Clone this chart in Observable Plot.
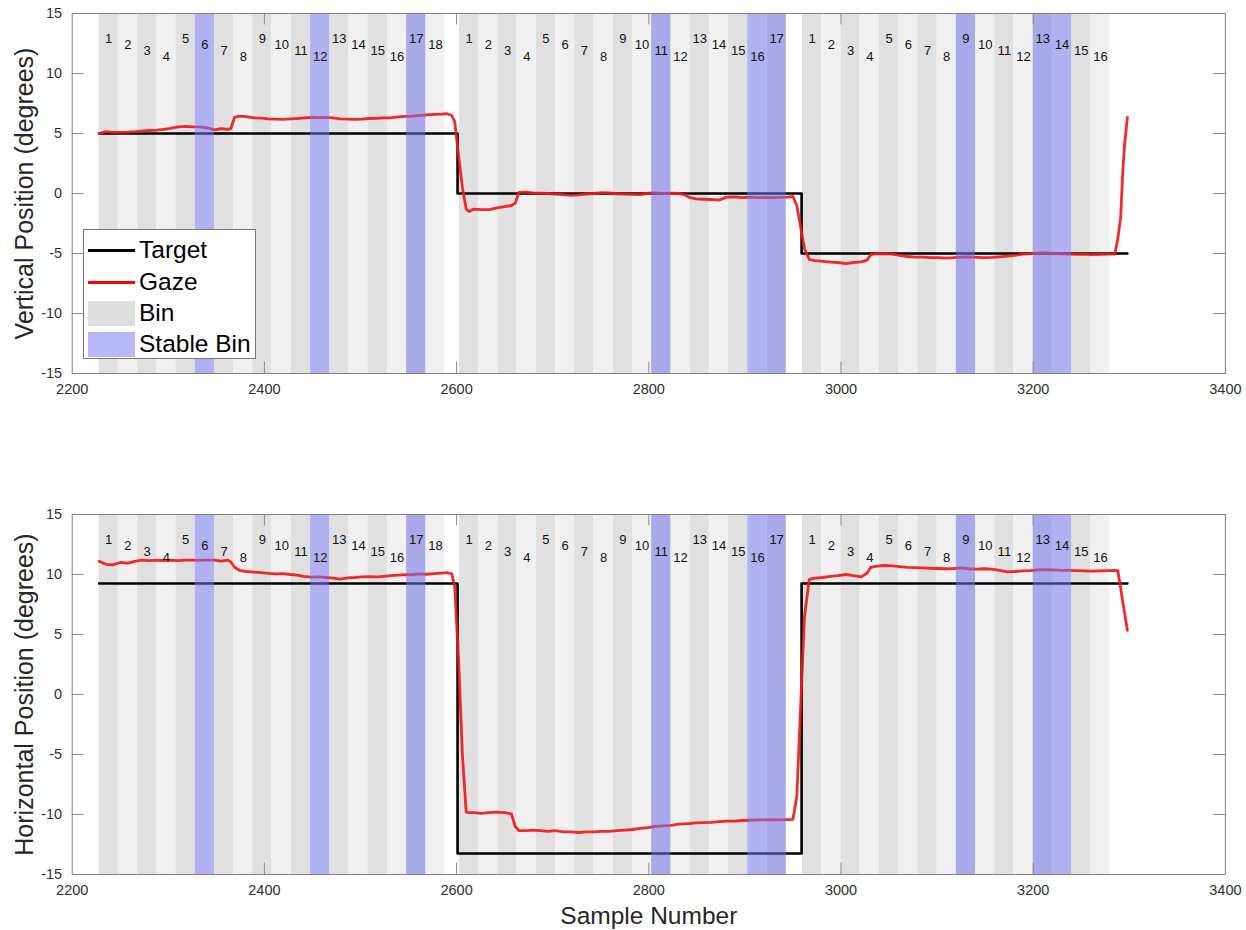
<!DOCTYPE html>
<html>
<head>
<meta charset="utf-8">
<script src="https://cdn.jsdelivr.net/npm/d3@7"></script>
<script src="https://cdn.jsdelivr.net/npm/@observablehq/plot@0.6"></script>
<style>
  html, body { margin: 0; padding: 0; background: #fff; }
  #chart { position: relative; width: 1246px; height: 930px; font-family: "Liberation Sans", Arial, sans-serif; }
  #chart svg { display: block; }
  .legend { position: absolute; left: 83px; top: 229px; width: 173px; height: 130px; border: 1px solid #777; background: #fff; box-sizing: border-box; }
  .legend .item { position: absolute; left: 4px; height: 30px; display: flex; align-items: center; font-size: 24.5px; color: #000; }
  .legend .sw { width: 47px; margin-right: 4px; }
</style>
</head>
<body>
<div id="chart"></div>
<script>
// ---------- data ----------
const xTicks = [2200, 2400, 2600, 2800, 3000, 3200, 3400];
const yTicks = [-15, -10, -5, 0, 5, 10, 15];

// bin start samples per trial (each bin 20 samples wide)
const binStarts1 = [2228, 2248, 2268, 2288, 2308, 2328, 2348, 2368, 2388, 2408, 2428, 2448, 2468, 2488, 2508, 2528, 2548, 2568];
const binStarts2 = [2603, 2623, 2643, 2663, 2683, 2703, 2723, 2743, 2763, 2783, 2803, 2823, 2843, 2863, 2883, 2903, 2923];
const binStarts3 = [2960, 2980, 3000, 3020, 3040, 3060, 3080, 3100, 3120, 3140, 3160, 3180, 3200, 3220, 3240, 3260];
const binWidth = 20;
const stable1 = [6, 12, 17];
const stable2 = [11, 16, 17];
const stable3 = [9, 13, 14];
const labelLevels = [12.9, 12.4, 11.9, 11.4];

// target steps
const targetSamples = [2228, 2601, 2959, 3298];
const targetVert = [5, 0, -5, -5];
const targetHorz = [9.25, -13.25, 9.25, 9.25];

// gaze samples
const gazeSamples = [
  2228, 2235, 2242, 2250, 2258, 2265, 2272, 2280, 2288, 2295, 2302, 2310, 2318, 2325, 2332, 2340, 2348, 2355, 2362, 2365,
  2369, 2374, 2381, 2389, 2397, 2404, 2411, 2419, 2427, 2434, 2441, 2449, 2457, 2464, 2471, 2479, 2487, 2494, 2501, 2509,
  2517, 2524, 2531, 2539, 2547, 2554, 2561, 2569, 2577, 2584, 2590, 2595, 2598, 2602, 2606, 2610, 2613,
  2618, 2626, 2634, 2642, 2650, 2657, 2661, 2665, 2672, 2679, 2687, 2695, 2703, 2711, 2719, 2727, 2735, 2743, 2751, 2759,
  2767, 2775, 2783, 2791, 2799, 2807, 2815, 2823, 2831, 2837, 2843, 2849, 2857, 2865, 2873, 2881, 2889, 2897, 2905, 2913,
  2921, 2929, 2937, 2945, 2950, 2954, 2958, 2962, 2967,
  2973, 2981, 2989, 2997, 3005, 3013, 3021, 3027, 3031, 3037, 3045, 3053, 3061, 3069, 3077, 3085, 3093, 3101, 3109, 3117,
  3125, 3133, 3141, 3149, 3157, 3165, 3173, 3181, 3189, 3197, 3205, 3213, 3221, 3229, 3237, 3245, 3253, 3261, 3269, 3277,
  3285, 3288, 3291, 3293, 3295, 3298
];
const gazeVert = [
  5.0, 5.15, 5.1, 5.1, 5.12, 5.15, 5.2, 5.25, 5.28, 5.35, 5.42, 5.55, 5.6, 5.55, 5.55, 5.48, 5.3, 5.4, 5.35, 5.4,
  6.35, 6.45, 6.4, 6.3, 6.28, 6.22, 6.2, 6.18, 6.22, 6.25, 6.3, 6.35, 6.33, 6.35, 6.3, 6.22, 6.2, 6.18, 6.2, 6.25,
  6.27, 6.3, 6.3, 6.38, 6.42, 6.45, 6.5, 6.55, 6.6, 6.62, 6.65, 6.5, 6.0, 3.2, 0.5, -1.3, -1.5,
  -1.3, -1.35, -1.35, -1.2, -1.1, -1.0, -0.8, 0.1, 0.12, 0.05, 0.03, 0.0, -0.05, -0.1, -0.15, -0.12, -0.05, 0.0, 0.08, 0.05,
  -0.02, -0.05, -0.08, -0.1, 0.02, 0.05, 0.0, 0.02, 0.0, -0.1, -0.35, -0.45, -0.48, -0.5, -0.55, -0.3, -0.28, -0.35, -0.3, -0.35,
  -0.33, -0.35, -0.32, -0.3, -0.25, -1.0, -2.8, -4.6, -5.5,
  -5.6, -5.65, -5.72, -5.75, -5.85, -5.75, -5.7, -5.55, -5.1, -5.02, -5.0, -5.05, -5.15, -5.25, -5.3, -5.3, -5.35, -5.35, -5.38, -5.35,
  -5.3, -5.28, -5.32, -5.35, -5.33, -5.28, -5.22, -5.15, -5.05, -5.0, -4.98, -4.95, -5.0, -5.02, -5.05, -5.08, -5.05, -5.1, -5.08, -5.05,
  -5.05, -3.8, -2.0, 1.5, 4.0, 6.35
];
const gazeHorz = [
  11.1, 10.85, 10.8, 11.0, 10.95, 11.1, 11.2, 11.15, 11.2, 11.15, 11.2, 11.15, 11.2, 11.2, 11.18, 11.2, 11.2, 11.12, 11.2, 11.05,
  10.6, 10.35, 10.25, 10.2, 10.15, 10.1, 10.05, 10.08, 10.0, 9.95, 9.85, 9.78, 9.8, 9.75, 9.7, 9.62, 9.72, 9.75, 9.8, 9.82,
  9.8, 9.85, 9.9, 9.95, 9.98, 10.0, 10.05, 10.02, 10.08, 10.12, 10.15, 10.05, 9.0, 3.0, -5.0, -9.8, -9.85,
  -9.85, -9.9, -9.85, -9.8, -9.85, -9.95, -11.0, -11.35, -11.35, -11.3, -11.35, -11.4, -11.35, -11.45, -11.45, -11.5, -11.45, -11.45, -11.4, -11.4,
  -11.35, -11.3, -11.25, -11.15, -11.1, -11.0, -10.95, -10.9, -10.8, -10.78, -10.75, -10.7, -10.68, -10.65, -10.6, -10.55, -10.55, -10.5, -10.48, -10.45,
  -10.45, -10.42, -10.45, -10.42, -10.4, -8.5, -1.0, 6.5, 9.6,
  9.7, 9.75, 9.85, 9.9, 10.0, 9.9, 9.8, 10.1, 10.6, 10.7, 10.75, 10.72, 10.65, 10.6, 10.58, 10.55, 10.52, 10.5, 10.48, 10.5,
  10.55, 10.48, 10.45, 10.48, 10.45, 10.35, 10.22, 10.25, 10.3, 10.32, 10.38, 10.4, 10.38, 10.35, 10.35, 10.32, 10.3, 10.28, 10.3, 10.32,
  10.35, 10.33, 8.9, 7.8, 6.85, 5.35
];

// ---------- build tables ----------
function makeBins(starts, stable, trial) {
  return starts.map((s, i) => ({
    trial, num: i + 1, x1: s, x2: s + binWidth, mid: s + binWidth / 2,
    level: labelLevels[i % 4], odd: (i % 2 === 0), stable: stable.includes(i + 1)
  }));
}
const bins = [
  ...makeBins(binStarts1, stable1, 1),
  ...makeBins(binStarts2, stable2, 2),
  ...makeBins(binStarts3, stable3, 3)
];
const targetV = targetSamples.map((s, i) => ({ x: s, y: targetVert[i] }));
const targetH = targetSamples.map((s, i) => ({ x: s, y: targetHorz[i] }));
const gazeV = gazeSamples.map((s, i) => ({ x: s, y: gazeVert[i] }));
const gazeH = gazeSamples.map((s, i) => ({ x: s, y: gazeHorz[i] }));

const font = '"Liberation Sans", Arial, sans-serif';
const tickCol = "#8a8a8a";
const tickLenY = 0.95;   // degrees (~11.5 px)
const tickLenX = 12;     // samples (~11.5 px)

function panel(target, gaze, ylabel, m, xlabel) {
  const marks = [
    Plot.rect(bins, { x1: "x1", x2: "x2", fill: d => d.odd ? "#e0e0e0" : "#f0f0f0" }),
    Plot.line(target, { x: "x", y: "y", curve: "step-after", stroke: "#000", strokeWidth: 2.6 }),
    Plot.line(gaze, { x: "x", y: "y", stroke: "#f01818", strokeWidth: 2.8, strokeOpacity: 0.92 }),
    Plot.rect(bins.filter(d => d.stable), { x1: "x1", x2: "x2", fill: "#7777f2", fillOpacity: 0.52 }),
    Plot.text(bins, { x: "mid", y: "level", text: d => String(d.num), fontSize: 13, fill: "#111" }),
    Plot.ruleX(xTicks.slice(1, -1), { x: d => d, y1: -15, y2: -15 + tickLenY, stroke: tickCol }),
    Plot.ruleX(xTicks.slice(1, -1), { x: d => d, y1: 15 - tickLenY, y2: 15, stroke: tickCol }),
    Plot.ruleY(yTicks.slice(1, -1), { y: d => d, x1: 2200, x2: 2200 + tickLenX, stroke: tickCol }),
    Plot.ruleY(yTicks.slice(1, -1), { y: d => d, x1: 3400 - tickLenX, x2: 3400, stroke: tickCol }),
    Plot.frame({ stroke: "#808080" }),
    Plot.axisX(xTicks, { tickSize: 0, tickPadding: 10, fontSize: 14.5, color: "#303030", label: null, tickFormat: d => String(d) }),
    Plot.axisY(yTicks, { tickSize: 0, tickPadding: 10, fontSize: 14.5, color: "#303030", label: null, tickFormat: d => String(d) }),
    Plot.text([ylabel], { frameAnchor: "left", rotate: -90, dx: -47, text: d => d, fontSize: 25, fill: "#262626", textAnchor: "middle", lineAnchor: "middle" })
  ];
  if (xlabel) {
    marks.push(Plot.text([xlabel], { frameAnchor: "bottom", dy: 42, text: d => d, fontSize: 24.5, fill: "#262626", textAnchor: "middle", lineAnchor: "middle" }));
  }
  return Plot.plot({
    width: 1246, height: 465,
    marginLeft: 71.7, marginRight: 21.1, marginTop: m[0], marginBottom: m[1],
    style: { fontFamily: font, background: "transparent", overflow: "visible" },
    x: { domain: [2200, 3400], ticks: xTicks },
    y: { domain: [-15, 15], ticks: yTicks },
    marks
  });
}

const chart = document.getElementById("chart");
chart.appendChild(panel(targetV, gazeV, "Vertical Position (degrees)", [13, 92], null));
chart.appendChild(panel(targetH, gazeH, "Horizontal Position (degrees)", [49, 56], "Sample Number"));

// legend
const legendItems = [
  { label: "Target", kind: "line", color: "#000" },
  { label: "Gaze", kind: "line", color: "#f00" },
  { label: "Bin", kind: "patch", color: "#dedede" },
  { label: "Stable Bin", kind: "patch", color: "rgba(119,119,242,0.52)" }
];
const legendY = [5, 37, 68, 99];
const lg = document.createElement("div");
lg.className = "legend";
legendItems.forEach((it, i) => {
  const row = document.createElement("div");
  row.className = "item";
  row.style.top = legendY[i] + "px";
  const sw = document.createElement("div");
  sw.className = "sw";
  if (it.kind === "line") { sw.style.height = "3px"; sw.style.background = it.color; }
  else { sw.style.height = "25px"; sw.style.background = it.color; }
  const tx = document.createElement("span");
  tx.textContent = it.label;
  row.appendChild(sw); row.appendChild(tx);
  lg.appendChild(row);
});
chart.appendChild(lg);
</script>
</body>
</html>
